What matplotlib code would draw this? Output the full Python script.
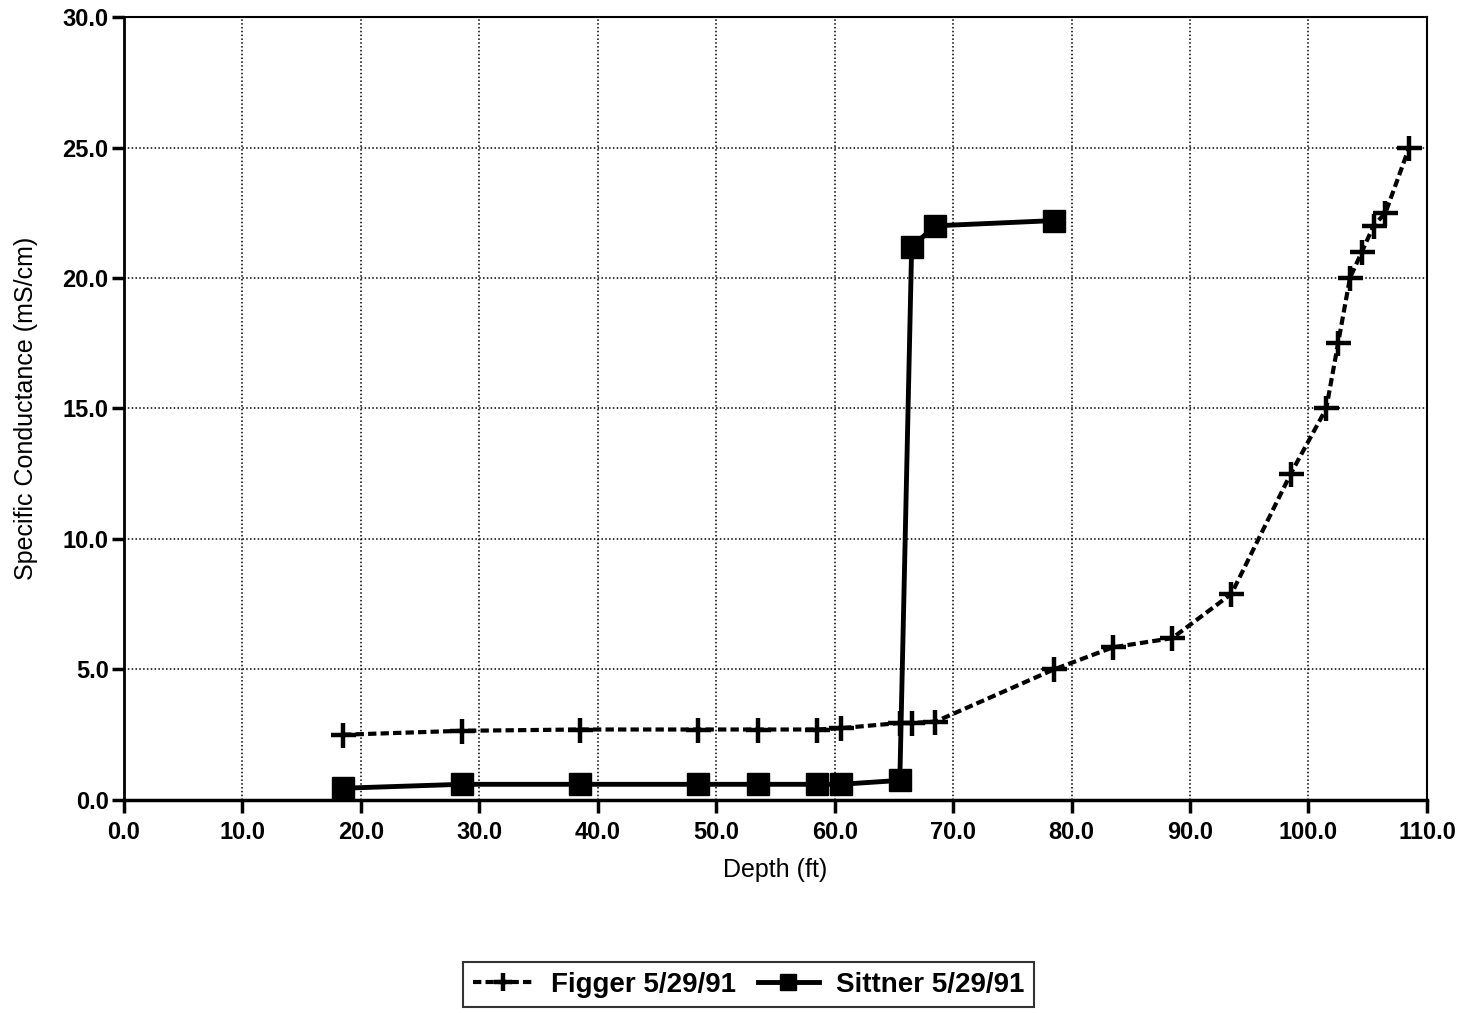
import matplotlib
matplotlib.use("Agg")
import matplotlib.pyplot as plt

figger_depth = [18.5, 28.5, 38.5, 48.5, 53.5, 58.5, 60.5, 65.5, 66.5, 68.5,
                78.5, 83.5, 88.5, 93.5, 98.5, 101.5, 102.5, 103.5, 104.5, 105.5, 106.5, 108.5]
figger_sc = [2.5, 2.65, 2.7, 2.7, 2.7, 2.7, 2.75, 2.95, 2.95, 3.0,
             5.0, 5.85, 6.2, 7.9, 12.5, 15.0, 17.5, 20.0, 21.0, 22.0, 22.5, 25.0]

sittner_depth = [18.5, 28.5, 38.5, 48.5, 53.5, 58.5, 60.5, 65.5, 66.5, 68.5, 78.5]
sittner_sc = [0.45, 0.6, 0.6, 0.6, 0.6, 0.6, 0.6, 0.75, 21.2, 22.0, 22.2]

x_ticks = [0, 10, 20, 30, 40, 50, 60, 70, 80, 90, 100, 110]
y_ticks = [0, 5, 10, 15, 20, 25, 30]

plt.rcParams['font.family'] = ['Liberation Sans', 'DejaVu Sans']

fig = plt.figure(figsize=(14.79, 10.13), dpi=100)
ax = fig.add_axes([0.0838, 0.2103, 0.8810, 0.7729])

l1, = ax.plot(figger_depth, figger_sc, color='black', linestyle=(0, (2.0, 1.0)), linewidth=3,
              marker='+', markersize=18, markeredgewidth=3.2, label='Figger 5/29/91')
l2, = ax.plot(sittner_depth, sittner_sc, color='black', linestyle='-', linewidth=3.5,
              marker='s', markersize=16, label='Sittner 5/29/91')

ax.set_xlim(0, 110)
ax.set_ylim(0, 30)
ax.set_xticks(x_ticks)
ax.set_yticks(y_ticks)
ax.set_xticklabels([f"{v:.1f}" for v in x_ticks], fontsize=17, fontweight='bold')
ax.set_yticklabels([f"{v:.1f}" for v in y_ticks], fontsize=17, fontweight='bold')
ax.tick_params(direction='out', length=9, width=2.5, pad=2)
ax.tick_params(axis='x', pad=6)
ax.grid(True, color='black', linestyle=(0, (1, 1.5)), linewidth=1.1)
ax.set_axisbelow(True)
for s in ax.spines.values():
    s.set_linewidth(1.5)
ax.spines['left'].set_linewidth(2)
ax.spines['bottom'].set_linewidth(2.5)

ax.set_xlabel('Depth (ft)', fontsize=18, labelpad=10)
ax.set_ylabel('Specific Conductance (mS/cm)', fontsize=18, labelpad=18)

leg = fig.legend(handles=[l1, l2], loc='center', bbox_to_anchor=(0.506, 0.028),
                 ncol=2, frameon=True, fancybox=False, edgecolor='black',
                 prop={'size': 20, 'weight': 'bold'}, handlelength=2.2,
                 handletextpad=0.6, columnspacing=0.8, borderpad=0.35, markerscale=0.7)
leg.get_frame().set_linewidth(1.5)

fig.savefig('out.png', dpi=100)
